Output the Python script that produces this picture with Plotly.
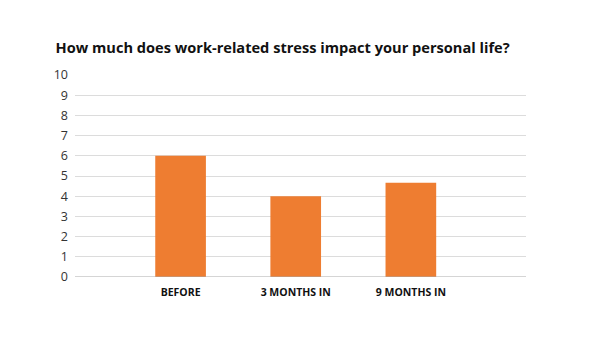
import plotly.graph_objects as go

categories = ["BEFORE", "3 MONTHS IN", "9 MONTHS IN"]
values = [6, 4, 4.67]
y_ticks = list(range(0, 11))

xpos = list(range(len(categories)))

fig = go.Figure(go.Bar(
    x=xpos, y=values, width=0.44,
    marker=dict(color="#EE7D31", line=dict(width=0)),
    hoverinfo="skip",
))

fig.update_layout(
    width=600, height=338,
    margin=dict(l=75, r=74, t=75, b=61),
    paper_bgcolor="white", plot_bgcolor="white",
    font=dict(family="Open Sans", color="#444"),
    showlegend=False,
    title=dict(
        text="<b>How much does work-related stress impact your personal life?</b>",
        x=0.471, xanchor="center", xref="container",
        y=0.858, yanchor="middle", yref="container",
        font=dict(family="Open Sans", size=14.6, color="#111"),
    ),
    xaxis=dict(
        range=[-0.917, 3.0], tickvals=xpos, ticktext=categories,
        showgrid=False, zeroline=False, showline=False, ticks="",
        tickfont=dict(family="Open Sans", size=10.5, color="#111", weight="bold"),
        ticklabelstandoff=7,
    ),
    yaxis=dict(
        range=[0, 10], tickvals=y_ticks, showgrid=True, gridcolor="#dcdcdc", gridwidth=1,
        zeroline=False, showline=False, ticks="",
        tickfont=dict(family="Open Sans", size=12.5, color="#333"),
        ticklabelstandoff=6,
    ),
    shapes=[dict(type="line", xref="paper", yref="y", x0=0, x1=1, y0=0, y1=0,
                 line=dict(color="#aaaaaa", width=1))],
)

fig.write_html("out.html")
